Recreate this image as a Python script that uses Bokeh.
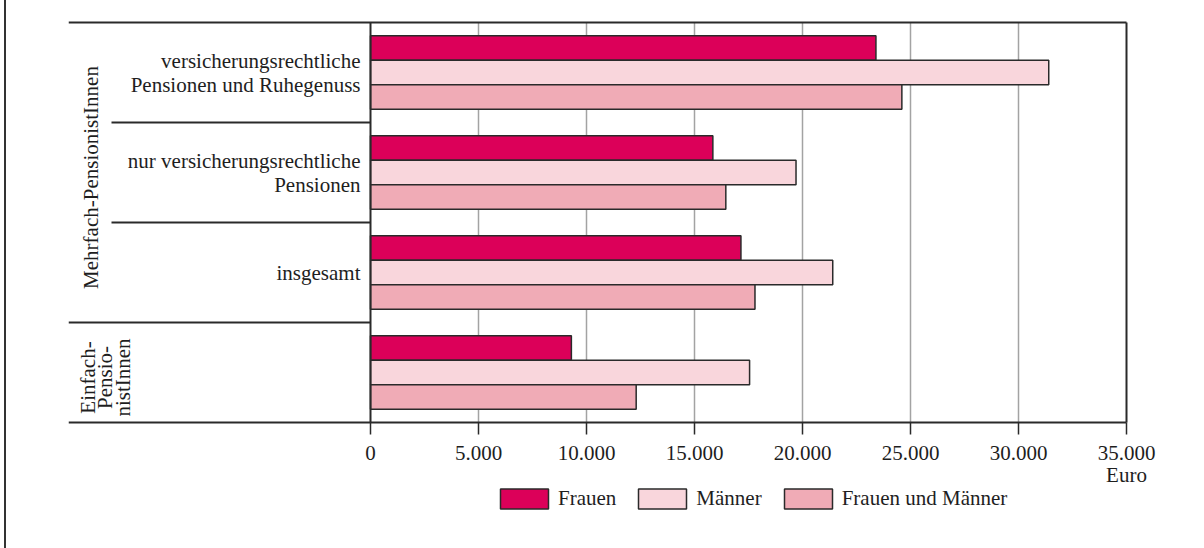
import math
from bokeh.plotting import figure
from bokeh.models import Range1d, FixedTicker, Legend, LegendItem
from bokeh.core.properties import value
from bokeh.embed import file_html
from bokeh.resources import INLINE

# ---------------- data ----------------
categories = ["versicherungsrechtliche\nPensionen und Ruhegenuss",
              "nur versicherungsrechtliche\nPensionen",
              "insgesamt",
              ""]
outer_groups = ["Mehrfach-PensionistInnen", "Einfach-\nPensio-\nnistInnen"]
outer_members = [[0, 1, 2], [3]]
series_names = ["Frauen", "Männer", "Frauen und Männer"]
frauen = [23400, 15850, 17150, 9300]
maenner = [31400, 19700, 21400, 17550]
beide = [24600, 16450, 17800, 12300]
tick_values = [0, 5000, 10000, 15000, 20000, 25000, 30000, 35000]
tick_labels = ["0", "5.000", "10.000", "15.000", "20.000", "25.000", "30.000", "35.000"]
unit_label = "Euro"

# ---------------- layout / style ----------------
colors = ["#DC0059", "#F9D6DC", "#F0ABB6"]
dark = "#2a2a2a"
txt = "#1e1e1e"
FONT = "Liberation Serif"
FS = "21px"
OX, OY = 6, 0                     # page position of canvas origin
PX = 756 / 35000                  # pixels per euro
ZERO = 370                        # page x of value 0
FL, FR = 68, 1186                 # frame left/right (page)
FT, FB = 20, 540                  # frame top/bottom (page)
BASE = 422                        # page y of value axis
W, H = 1180, 548

def xd(page_x):
    return (page_x - ZERO) / PX

def yd(page_y):
    return (BASE - page_y) / 100.0

n = len(categories)
centers = [n - 0.5 - i for i in range(n)]
x_max = tick_values[-1]

p = figure(width=W, height=H, output_backend="svg", toolbar_location=None,
           x_range=Range1d(xd(FL), xd(FR)), y_range=Range1d(yd(FB), yd(FT)),
           y_axis_location=None,
           min_border_left=FL - OX, min_border_right=W - (FR - OX),
           min_border_top=FT - OY, min_border_bottom=H - (FB - OY))
p.outline_line_color = None
p.background_fill_color = "white"
p.border_fill_color = "white"
p.xgrid.visible = False
p.ygrid.visible = False
p.styles = {"margin-left": "4px", "border-left": "2px solid #333333"}

# axis (drawn at value 0 of the category scale)
ax = p.xaxis[0]
ax.fixed_location = 0
ax.ticker = FixedTicker(ticks=tick_values)
labels = list(tick_labels)
labels[-1] = labels[-1] + "\n" + unit_label
ax.major_label_overrides = {v: l for v, l in zip(tick_values, labels)}
ax.axis_line_color = None
ax.major_tick_line_color = dark
ax.major_tick_line_width = 1.5
ax.major_tick_out = 12
ax.major_tick_in = 0
ax.minor_tick_out = 0
ax.minor_tick_in = 0
ax.major_label_text_font = FONT
ax.major_label_text_font_size = FS
ax.major_label_text_color = txt
ax.major_label_text_line_height = 0.95
ax.major_label_standoff = 6

# vertical grid lines (drawn under the bars)
p.segment(x0=tick_values[1:-1], y0=0, x1=tick_values[1:-1], y1=n,
          line_color="#a3a3a3", line_width=1.5)

# bars
offsets = [0.245, 0.0, -0.245]
renderers = []
for vals, off, col in zip([frauen, maenner, beide], offsets, colors):
    r = p.hbar(y=[c + off for c in centers], right=vals, left=0, height=0.245,
               fill_color=col, line_color=dark, line_width=1.5)
    renderers.append(r)

# frame / separator lines
sep_short = xd(111)
p.segment(x0=[xd(FL), 0, x_max, sep_short, sep_short, xd(FL), xd(FL)],
          y0=[n, 0, 0, 3, 2, 1, 0],
          x1=[x_max, 0, x_max, 0, 0, 0, x_max],
          y1=[n, n, n, 3, 2, 1, 0],
          line_color=dark, line_width=2)

# category labels
p.text(x=[xd(360)] * n, y=centers, text=categories, text_align="right",
       text_baseline="middle", text_font=value(FONT), text_font_size=FS,
       text_color=txt, text_line_height=1.0)

# outer group labels (rotated)
outer_y = [sum(centers[i] for i in m) / len(m) - 0.05 for m in outer_members]
p.text(x=[xd(90.5)], y=[outer_y[0]], text=[outer_groups[0]], angle=math.pi / 2,
       text_align="center", text_baseline="middle", text_font=value(FONT),
       text_font_size=FS, text_color=txt)
p.text(x=[xd(105)], y=[outer_y[1]], text=[outer_groups[1]], angle=math.pi / 2,
       text_align="center", text_baseline="middle", text_font=value(FONT),
       text_font_size=FS, text_color=txt, text_line_height=0.73)

# legend (bar legend glyphs are drawn inset by 10 %)
lg = Legend(items=[LegendItem(label=nm, renderers=[r]) for nm, r in zip(series_names, renderers)],
            location=(494 - FL, FB - 510.5), orientation="horizontal")
lg.padding = 0
lg.margin = 0
lg.spacing = 16
lg.glyph_width = 60
lg.glyph_height = 25
lg.label_height = 25
lg.label_standoff = 4
lg.border_line_color = None
lg.background_fill_alpha = 0
lg.label_text_font = FONT
lg.label_text_font_size = FS
lg.label_text_color = txt
p.add_layout(lg)

open("out.html", "w").write(file_html(p, INLINE))
